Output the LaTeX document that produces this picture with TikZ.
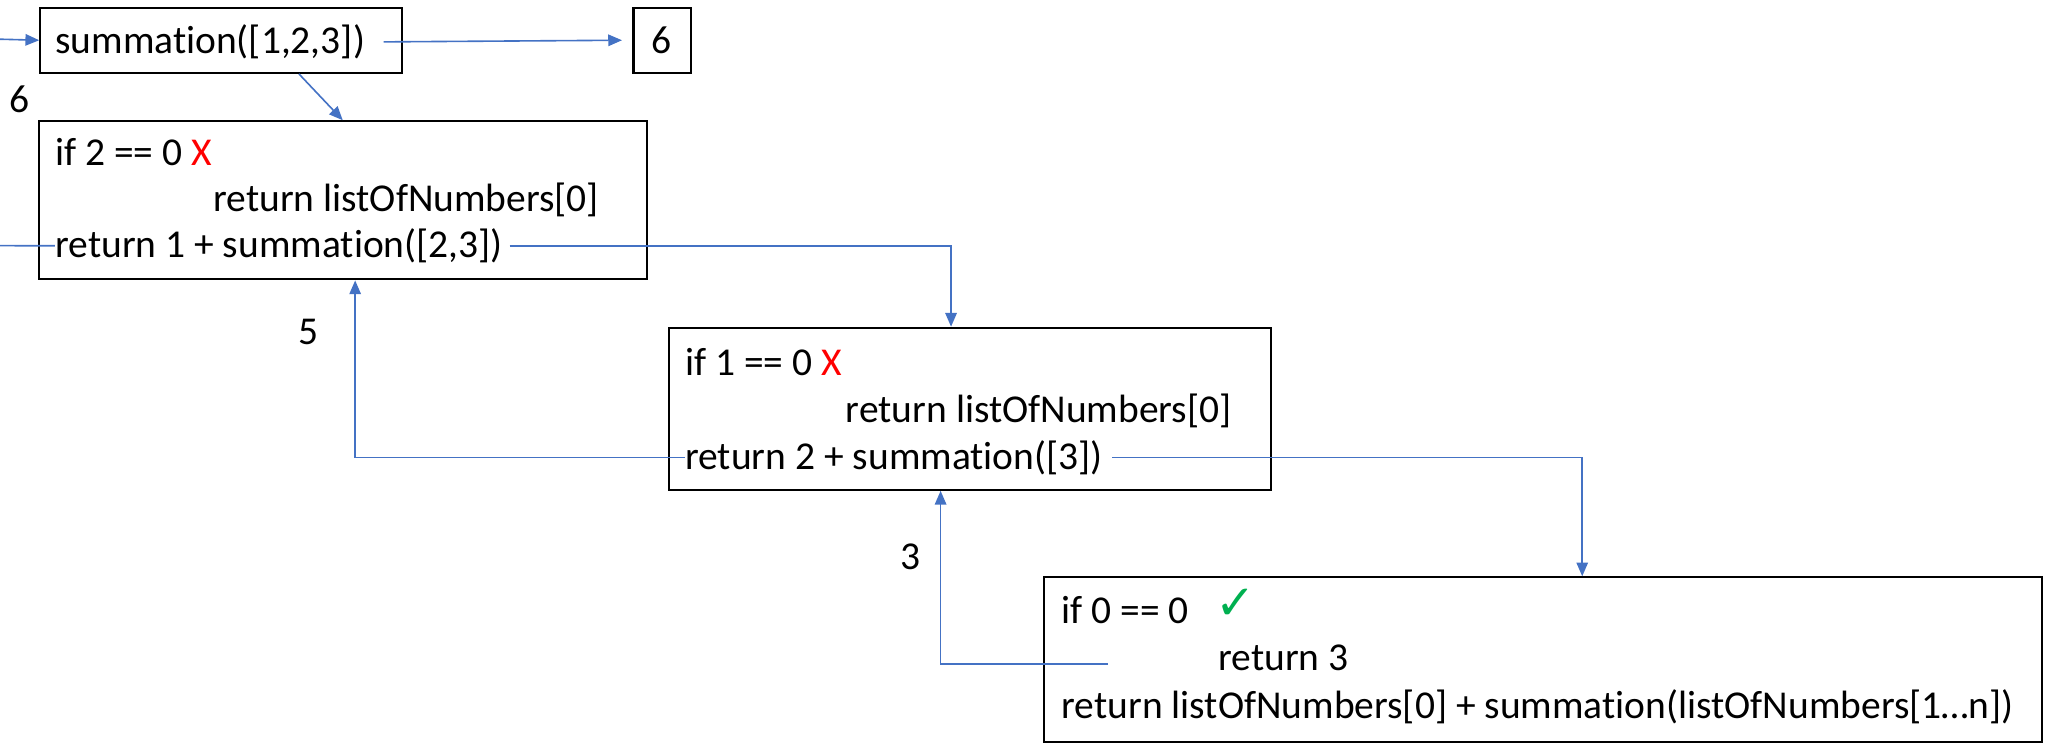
\documentclass[tikz,border=0pt]{standalone}
\usepackage{fontspec}
\setmainfont{Carlito}[Ligatures=NoCommon]
\newfontfamily\symfont{DejaVu Sans}
\usepackage{xcolor}
\usetikzlibrary{arrows.meta, positioning}

\definecolor{linkblue}{HTML}{4472C4}
\definecolor{xred}{HTML}{FF0000}
\definecolor{okgreen}{HTML}{00B050}
\newcommand{\px}{0.02cm}

\begin{document}
\begin{tikzpicture}[
            x=0.02cm, y=-0.02cm,
            box/.style={
                draw=black,
                line width=0.9pt,
                anchor=north west,
                inner sep=0pt
            },
            code/.style={
                anchor=base west,
                inner sep=0pt,
                font=\fontsize{17.2}{20}\selectfont
            },
            link/.style={
                draw=linkblue,
                line width=0.7pt,
                -{Triangle[length=6pt, width=5pt]}
            },
            plain/.style={
                draw=linkblue,
                line width=0.7pt
            }
        ]
            \useasboundingbox (0,0) rectangle (1568,569);

            % --- first call ---
            \node [box, minimum width=277*\px, minimum height=50*\px] (call1) at (30,5) {};
            \node [code] (sum1) at (42,41) {summation([1,2,3])};
            \node [box, minimum width=44*\px, minimum height=50*\px] (result) at (484,5) {};
            \node [code, anchor=base] (res) at (506,41) {6};
            \node [code] (lbl6) at (7,86) {6};

            % --- level 1 ---
            \node [box, minimum width=465*\px, minimum height=121*\px] (lvl1) at (29,92) {};
            \node [code] (if1) at (42,127) {if 2 == 0 {\color{xred}X}};
            \node [code] (base1) at (163,162) {return listOfNumbers[0]};
            \node [code] (ret1) at (42,197) {return 1 + summation([2,3])};
            \node [code] (lbl5) at (228,264) {5};

            % --- level 2 ---
            \node [box, minimum width=461*\px, minimum height=124*\px] (lvl2) at (511,250) {};
            \node [code] (if2) at (524,287) {if 1 == 0 {\color{xred}X}};
            \node [code] (base2) at (647,323) {return listOfNumbers[0]};
            \node [code] (ret2) at (524,359) {return 2 + summation([3])};
            \node [code] (lbl3) at (689,436) {3};

            % --- level 3 (base case) ---
            \node [box, minimum width=764*\px, minimum height=126*\px] (lvl3) at (798,441) {};
            \node [code] (if3) at (812,477) {if 0 == 0};
            \node [code, text=okgreen, font=\fontsize{21}{24}\selectfont] (tick) at (930,474) {\symfont ✓};
            \node [code] (base3) at (932,513) {return 3};
            \node [code] (ret3) at (812,550) {return listOfNumbers[0] + summation(listOfNumbers[1…n])};

            % --- calls ---
            \coordinate (in1) at (0,30);
            \coordinate (in2) at (0,188);
            \path [link] (in1) -- (call1.west);
            \path [link] ([xshift=14*\px]sum1.east) -- ([xshift=-8*\px]result.west);
            \path [link] ([xshift=59.5*\px]call1.south) -- (lvl1.north);
            \path [plain] (in2) -- (ret1.west);
            \path [link] ([xshift=5*\px]ret1.east) -| ([xshift=-14.5*\px]lvl2.north);
            \path [link] ([xshift=7*\px]ret2.east) -| ([xshift=30*\px]lvl3.north);

            % --- returns ---
            \path [link] (ret2.west) -| ([xshift=9.5*\px]lvl1.south);
            \path [link] ([xshift=-84*\px,yshift=-5*\px]base3.west) -| ([xshift=-22.5*\px]lvl2.south);
        \end{tikzpicture}
\end{document}
